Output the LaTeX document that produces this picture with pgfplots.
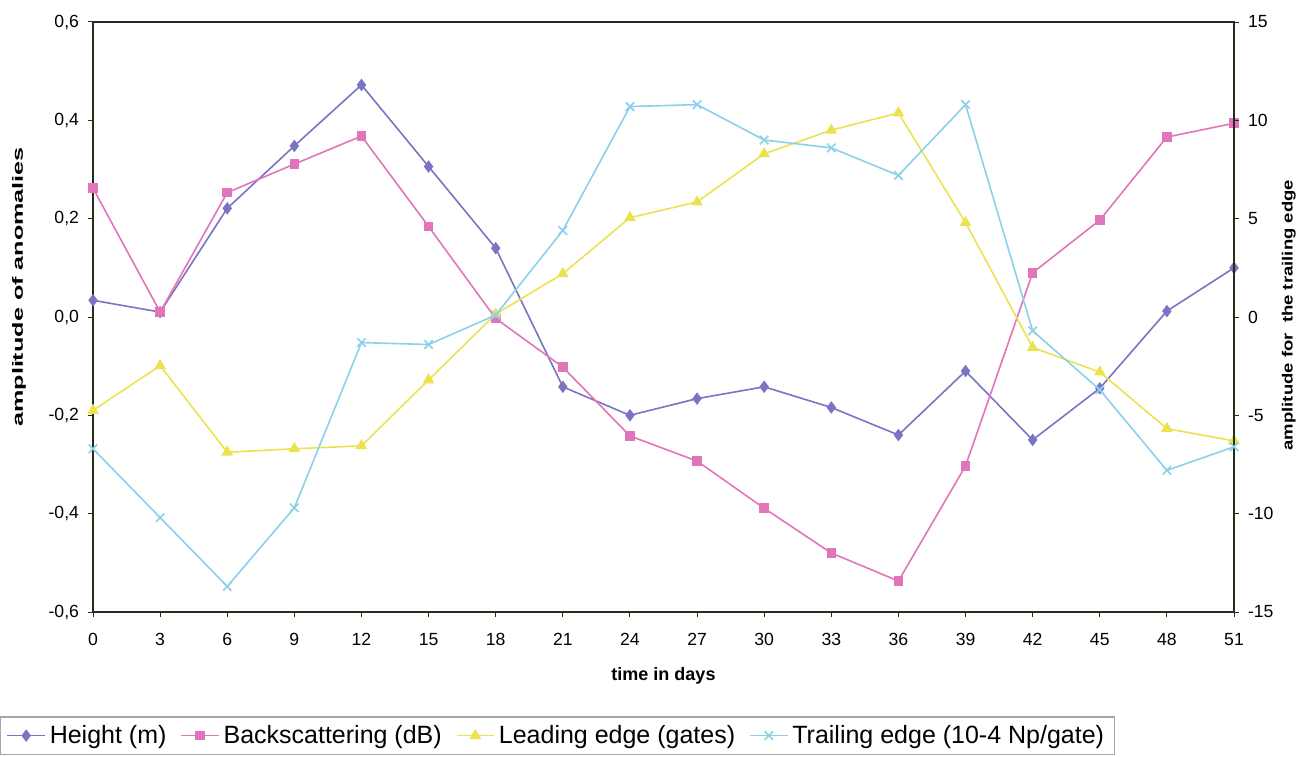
\documentclass[border=0pt]{standalone}
\usepackage{fontspec}
\setmainfont{Liberation Sans}
\usepackage{graphicx}
\usepackage{pgfplots}
\pgfplotsset{compat=1.18}

\definecolor{hgt}{RGB}{122,116,196}
\definecolor{bsc}{RGB}{226,116,186}
\definecolor{led}{RGB}{236,226,80}
\definecolor{trl}{RGB}{140,208,234}
\definecolor{frm}{RGB}{35,45,25}

\pgfplotsset{
  common/.style={
    scale only axis, width=570.5pt, height=295pt,
    at={(46.5pt,72pt)}, anchor=south west,
    xmin=0, xmax=51,
    tick align=outside, major tick length=2.5pt,
    tick style={frm, line width=0.5pt},
    axis line style={frm, line width=1pt},
    ticklabel style={font=\fontsize{8.8}{10}\selectfont},
    /pgf/number format/assume math mode=true,
    legend image code/.code={%
      \draw[mark repeat=2,mark phase=2] plot coordinates {(0cm,0cm) (0.33cm,0cm) (0.66cm,0cm)};},
  },
  every axis plot/.append style={line width=0.8pt},
}

\begin{document}
\begin{tikzpicture}
\useasboundingbox (0,0) rectangle (654.5pt,378pt);

% left scale: height, backscattering, leading edge
\begin{axis}[
  common,
  ymin=-0.6, ymax=0.6,
  xtick={0,3,...,51}, xtick pos=bottom, ytick pos=left,
  xticklabel style={yshift=-4.5pt},
  yticklabel style={xshift=-1pt},
  ytick={-0.6,-0.4,-0.2,0,0.2,0.4,0.6},
  yticklabels={{-0,6},{-0,4},{-0,2},{0,0},{0,2},{0,4},{0,6}},
  xlabel={time in days},
  xlabel style={at={(axis description cs:0.5,-0.108)}, anchor=center,
    font=\fontsize{9}{11}\selectfont\bfseries},
  ylabel={\scalebox{1.7}[1]{amplitude of anomalies}},
  ylabel style={at={(axis description cs:-0.0649,0.551)}, anchor=center,
    font=\fontsize{7.4}{9}\selectfont\bfseries},
  legend columns=-1,
  legend style={at={(axis description cs:-0.0815,-0.177)}, anchor=north west,
    draw=gray!70, line width=0.6pt, font=\fontsize{12.5}{15}\selectfont,
    /tikz/every even column/.append style={column sep=5pt}},
]
\addplot[hgt, mark=diamond*, mark size=2.5pt] coordinates {
  (0,0.034) (3,0.010) (6,0.221) (9,0.348) (12,0.472) (15,0.306)
  (18,0.140) (21,-0.142) (24,-0.200) (27,-0.166) (30,-0.142) (33,-0.184)
  (36,-0.240) (39,-0.110) (42,-0.250) (45,-0.145) (48,0.012) (51,0.100)};
\addlegendentry{Height (m)}
\addplot[bsc, mark=square*, mark size=2pt] coordinates {
  (0,0.262) (3,0.010) (6,0.253) (9,0.311) (12,0.368) (15,0.184)
  (18,-0.003) (21,-0.102) (24,-0.242) (27,-0.293) (30,-0.389) (33,-0.480)
  (36,-0.537) (39,-0.303) (42,0.090) (45,0.197) (48,0.366) (51,0.394)};
\addlegendentry{Backscattering (dB)}
\addplot[led, mark=triangle*, mark size=2.6pt] coordinates {
  (0,-0.190) (3,-0.099) (6,-0.275) (9,-0.268) (12,-0.262) (15,-0.128)
  (18,0.006) (21,0.088) (24,0.202) (27,0.234) (30,0.332) (33,0.380)
  (36,0.415) (39,0.192) (42,-0.062) (45,-0.112) (48,-0.227) (51,-0.252)};
\addlegendentry{Leading edge (gates)}
\addlegendimage{trl, mark=x, mark size=3pt, line width=0.8pt}
\addlegendentry{Trailing edge (10-4 Np/gate)}
\end{axis}

% right scale: trailing edge
\begin{axis}[
  common,
  ymin=-15, ymax=15,
  axis x line=none, axis y line*=right,
  ytick={-15,-10,-5,0,5,10,15},
  yticklabels={-15,-10,-5,0,5,10,15},
  yticklabel style={xshift=1pt},
  ylabel={\scalebox{1.25}[1]{amplitude for\ \ the trailing edge}},
  ylabel style={at={(axis description cs:1.048,0.503)}, anchor=center,
    font=\fontsize{7.4}{9}\selectfont\bfseries},
]
\addplot[trl, mark=x, mark size=3pt] coordinates {
  (0,-6.7) (3,-10.2) (6,-13.7) (9,-9.7) (12,-1.3) (15,-1.4)
  (18,0.1) (21,4.4) (24,10.7) (27,10.8) (30,9.0) (33,8.6)
  (36,7.2) (39,10.8) (42,-0.7) (45,-3.7) (48,-7.8) (51,-6.6)};
\end{axis}
\end{tikzpicture}
\end{document}
